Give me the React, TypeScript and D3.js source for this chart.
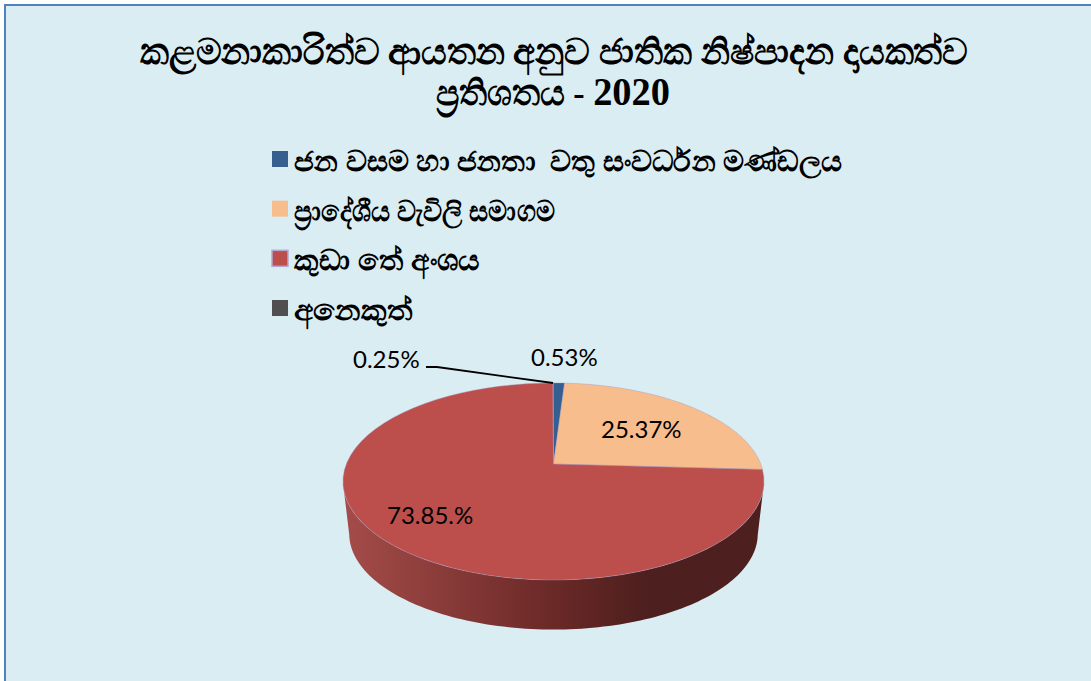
import { useMemo } from 'react';
import * as d3 from 'd3';

const titleLine1 = 'කළමනාකාරිත්ව ආයතන අනුව ජාතික නිෂ්පාදන දායකත්ව';
const titleLine2 = 'ප්‍රතිශතය - ';
const titleYear = '2020';
const categories = ['ජන වසම හා ජනතා  වතු සංවර්ධන මණ්ඩලය', 'ප්‍රාදේශීය වැවිලි සමාගම', 'කුඩා තේ අංශය', 'අනෙකුත්'];
const shares = [1.0, 24.9, 74.05, 0.05];
const valueLabels = ['0.53%', '25.37%', '73.85.%', '0.25%'];
const colors = ['#355f91', '#f8bd8c', '#bc4f4c', '#4f4f4f'];
const legendWidths = [548, 261, 186, 119];

const W = 1091;
const H = 681;
const cx = 553.5;
const apexY = 464;
// perspective of the tilted disc
const persp = 0.1777;
const radX = 207.2;
const radY = 95.4;
const depth = 53;
const lowerScale = 0.97;

const project = (a: number): [number, number] => {
  const u = Math.sin(a);
  const v = -Math.cos(a);
  const k = 1 / (1 - persp * v);
  return [cx + radX * u * k, apexY + radY * v * k];
};

const projectLower = (a: number): [number, number] => {
  const [x, y] = project(a);
  return [cx + (x - cx) * lowerScale, apexY + (y - apexY) * lowerScale + depth];
};

const legendY = d3.scalePoint<number>().domain(d3.range(categories.length)).range([159, 308]);
const lineGen = d3.line();

export default function App() {
  const slices = useMemo(() => d3.pie<number>().sort(null)(shares), []);

  const wedge = (s: d3.PieArcDatum<number>) => {
    const pts: [number, number][] = [[cx, apexY]];
    d3.range(0, 61).forEach((i) => {
      pts.push(project(s.startAngle + ((s.endAngle - s.startAngle) * i) / 60));
    });
    return lineGen(pts) + 'Z';
  };

  const sidePath = () => {
    const angles = d3.range(0, 121).map((i) => Math.PI * 0.56 + (Math.PI * 0.88 * i) / 120);
    const upper = angles.map(project);
    const lower = angles.map(projectLower).reverse();
    return lineGen([...upper, ...lower]) + 'Z';
  };

  return (
    <svg
      width={W}
      height={H}
      style={{ position: 'absolute', left: 0, top: 0, display: 'block' }}
    >
      <defs>
        <linearGradient id="side" gradientUnits="userSpaceOnUse" x1={343} x2={764} y1={0} y2={0}>
          <stop offset="0" stopColor="#a54c49" />
          <stop offset="0.5" stopColor="#6a2927" />
          <stop offset="0.72" stopColor="#4d1f1e" />
          <stop offset="1" stopColor="#4d1f1e" />
        </linearGradient>
      </defs>
      <rect x={5} y={5} width={W} height={H} fill="#daedf3" stroke="#4f81bd" strokeWidth={2} />

      <g fontFamily="'Liberation Serif', serif" fontWeight="bold" fontSize={35.6} textAnchor="middle" fill="#000">
        <text x={554} y={64} textLength={828} lengthAdjust="spacingAndGlyphs">{titleLine1}</text>
        <text x={553} y={105} xmlSpace="preserve" textLength={234} lengthAdjust="spacingAndGlyphs">
          {titleLine2}
          <tspan fontSize={40}>{titleYear}</tspan>
        </text>
      </g>

      {categories.map((c, i) => (
        <g key={c}>
          <rect
            x={272}
            y={legendY(i)! - 8}
            width={16}
            height={16}
            fill={colors[i]}
            stroke={i === 2 ? '#b5a8d0' : 'none'}
            strokeWidth={1.5}
          />
          <text
            x={294}
            y={legendY(i)! + 12}
            fontFamily="'Liberation Serif', serif"
            fontWeight="bold"
            fontSize={29}
            fill="#000"
            xmlSpace="preserve"
            textLength={legendWidths[i]}
            lengthAdjust="spacingAndGlyphs"
          >
            {c}
          </text>
        </g>
      ))}

      <path d={sidePath()} fill="url(#side)" />
      {slices.map((s, i) => (
        <path key={i} d={wedge(s)} fill={colors[i]} stroke="#a394bd" strokeWidth={0.6} strokeOpacity={0.7} />
      ))}

      <path d="M426 367 L437 367 L553 383" fill="none" stroke="#000" strokeWidth={1.8} />
      <g fontFamily="Lato, sans-serif" fontSize={24} fill="#000">
        <text x={531} y={366}>{valueLabels[0]}</text>
        <text x={601} y={438}>{valueLabels[1]}</text>
        <text x={387} y={524}>{valueLabels[2]}</text>
        <text x={353} y={368}>{valueLabels[3]}</text>
      </g>
    </svg>
  );
}
